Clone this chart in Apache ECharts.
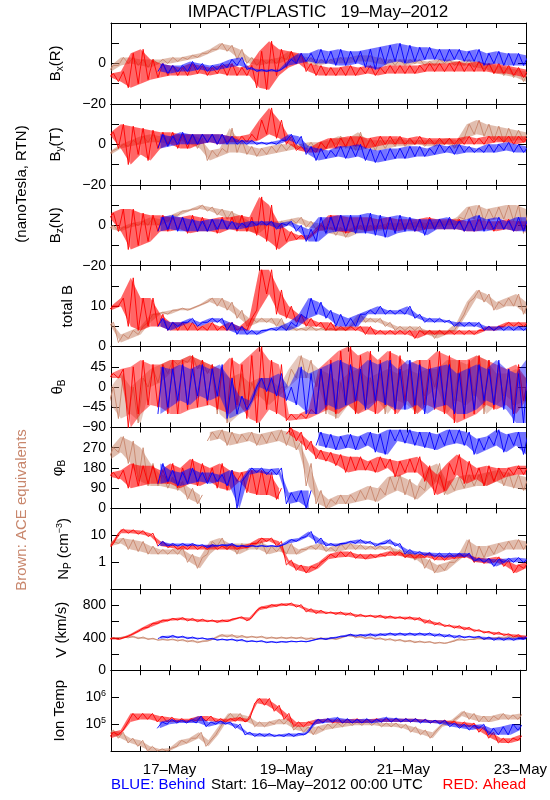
<!DOCTYPE html>
<html><head><meta charset="utf-8">
<script src="https://cdn.jsdelivr.net/npm/echarts@6/dist/echarts.min.js"></script>
<style>html,body{margin:0;padding:0;background:#fff}#c{width:550px;height:800px}</style>
</head><body><div id="c"></div>
<script>
// sample times, hours since 16-May-2012 00:00 UTC (every 4 h)
const sampleHours = [0,4,8,12,16,20,24,28,32,36,40,44,48,52,56,60,64,68,72,76,80,84,88,92,96,100,104,108,112,116,120,124,128,132,136,140,144,148,152,156,160,164,168];
const xTickHours = [24,72,120,168];
const xTickLabels = ['17–May','19–May','21–May','23–May'];

// each entry: [low, high] spread of the data in that 4-hour slot
const bxRed = [[-7,-5],[-9,-4],[-12,5],[-10,7],[-8,2],[-7,0],[-6,-1],[-6,-2],[-6,0],[-5,-1],[-6,-2],[-5,-1],[-6,0],[-6,-2],[-6,-1],[-12,6],[-13,11],[-6,7],[-2,6],[0,5],[-4,0],[-6,-1],[-6,-2],[-6,-2],[-6,-1],[-6,-2],[-5,-1],[-6,-2],[-5,-1],[-5,-1],[-5,-1],[-5,-1],[-4,0],[-4,0],[-4,0],[-4,1],[-4,0],[-4,1],[-4,0],[-5,0],[-5,-1],[-6,-2],[-7,-3]];
const bxBlue = [null,null,null,null,null,[-4,0],[-5,-1],[-4,-1],[-4,1],[-3,0],[-4,-1],[-3,0],[-2,2],[-1,3],[-3,-2],[-4,-3],[-4,-3],[-4,-3],[-1,2],[0,5],[1,5],[0,7],[0,6],[-1,7],[-1,6],[0,6],[-2,7],[-3,8],[0,9],[1,10],[0,9],[1,8],[2,8],[2,7],[1,7],[2,7],[1,6],[1,7],[-1,5],[0,6],[-1,5],[-1,5],[-1,4]];
const bxBrown = [[-4,-1],[-1,3],[0,3],[-1,2],[-2,2],[0,2],[0,3],[1,3],[2,4],[3,5],[5,7],[7,10],[6,9],[2,7],[0,3],[-1,2],[0,2],[0,3],[2,6],[1,4],[0,3],[-1,2],[0,2],[0,3],[0,3],[1,4],[1,4],[0,3],[-1,2],[-1,2],[-1,2],[0,2],[-1,1],[-1,2],[0,2],[-1,1],[-1,2],[-2,1],[-3,0],[-5,-1],[-6,-2],[-7,-3],[-9,-4]];

const byRed = [[4,6],[-2,10],[-10,9],[-5,8],[-8,7],[-2,6],[0,6],[-2,5],[-2,5],[0,5],[1,5],[0,5],[1,4],[1,4],[1,5],[2,12],[5,18],[3,12],[0,4],[-3,-1],[-4,-2],[-4,1],[-2,3],[-2,3],[-1,4],[-1,4],[-2,3],[-1,4],[0,4],[0,4],[0,3],[0,4],[0,3],[0,3],[0,3],[0,3],[0,4],[0,3],[0,4],[1,4],[1,4],[0,4],[1,4]];
const byBlue = [null,null,null,null,null,[-2,5],[-1,4],[0,6],[0,5],[0,5],[1,5],[0,5],[0,4],[0,2],[0,2],[0,1],[0,1],[0,2],[2,5],[0,4],[-5,-1],[-8,-2],[-7,-3],[-6,-1],[-7,-1],[-6,0],[-8,-2],[-9,-3],[-8,-2],[-7,-2],[-7,-1],[-6,-1],[-6,-2],[-5,0],[-4,-1],[-5,0],[-4,-1],[-4,-2],[-4,0],[-4,0],[-3,1],[-4,0],[-4,-1]];
const byBrown = [[-5,-3],[-2,0],[-1,2],[0,4],[1,5],[1,4],[0,4],[2,5],[0,5],[-2,3],[-8,-3],[-6,-2],[-4,8],[-4,2],[-5,-1],[-6,-2],[-5,-1],[-4,0],[-3,0],[-2,0],[-2,1],[-3,1],[-2,2],[0,4],[-2,3],[-3,6],[-2,2],[-3,2],[-2,2],[-1,3],[-1,2],[0,2],[-1,2],[-1,2],[0,3],[-2,2],[3,10],[5,12],[4,10],[2,9],[1,8],[2,7],[2,6]];

const bzRed = [[3,6],[-3,8],[-12,8],[-10,6],[-8,5],[-3,5],[-3,4],[-2,4],[-4,5],[-3,4],[-3,3],[-4,4],[-2,4],[-3,5],[-3,4],[-5,14],[-8,10],[-12,1],[-8,-3],[-7,-5],[-7,-5],[-3,0],[-2,5],[-3,5],[-4,4],[-2,4],[-3,4],[-2,3],[-2,4],[-3,3],[-2,3],[-3,3],[-2,4],[-2,3],[-2,3],[-2,3],[-3,2],[-3,3],[-2,2],[-3,2],[-2,3],[-3,2],[-2,2]];
const bzBlue = [null,null,null,null,null,[-3,4],[-2,5],[-3,4],[-3,3],[-3,2],[-3,3],[-2,3],[-2,2],[-2,1],[-1,2],[0,2],[0,2],[-2,1],[0,2],[-3,0],[-8,-2],[-8,4],[-4,4],[-3,5],[-3,5],[-4,5],[-4,6],[-5,5],[-6,4],[-4,5],[-3,4],[-3,3],[-5,3],[-2,3],[-2,4],[-2,2],[-3,3],[-3,5],[-3,3],[-2,4],[-2,2],[-3,4],[-3,4]];
const bzBrown = [[-2,0],[-3,-1],[-1,1],[0,2],[0,4],[0,3],[2,5],[5,7],[7,8],[8,10],[7,9],[5,8],[3,7],[0,5],[-3,2],[-4,1],[0,2],[-1,2],[0,3],[1,4],[-1,2],[-2,1],[-4,-1],[-5,-1],[-6,-2],[-4,0],[-3,0],[-3,0],[-2,1],[-2,1],[-2,1],[-1,2],[-2,1],[-1,2],[0,2],[0,4],[3,9],[3,10],[2,8],[3,9],[3,10],[2,10],[-4,8]];

const btRed = [[9,10],[10,12],[5,17],[4,12],[5,12],[5,8],[4,6],[4,6],[4,6],[4,5],[4,6],[4,5],[4,6],[4,5],[4,7],[9,19],[13,19],[8,14],[7,10],[6,8],[5,7],[5,6],[4,6],[4,5],[4,5],[4,5],[3,5],[3,4],[3,4],[3,4],[3,4],[2,4],[3,4],[3,4],[3,4],[3,4],[3,4],[3,4],[4,5],[4,5],[5,6],[5,6],[5,6]];
const btBlue = [null,null,null,null,null,[5,7],[4,6],[5,6],[6,7],[5,6],[6,7],[6,7],[4,6],[3,5],[3,4],[3,4],[4,4.5],[4,5],[4,6],[5,8],[7,12],[8,11],[7,9],[5,8],[5,7],[5,8],[8,9],[8,10],[8,9],[8,9],[8,10],[7,8],[6,7],[6,7],[6,6.5],[5,6],[5,6],[5,6],[4,5],[4,5],[4,5],[4,5],[4,5]];
const btBrown = [[5,6],[1,3],[2,4],[3,5],[6,8],[8,8.5],[8,9],[9,9.5],[9,9.5],[10,10.5],[11,12],[10,12],[9,11],[7,9],[5,7],[6,7],[6,7],[5,7],[4,5],[4,4.5],[4,5],[4,4.5],[4,4.5],[4,4.5],[4,5],[6,8],[6,7],[6,7],[5,6],[4,5],[4,5],[4,5],[3,4],[2,4],[3,4],[4,6],[8,11],[12,14],[11,13],[9,11],[10,12],[10,13],[8,11]];

const thRed = [[20,30],[20,40],[-90,45],[-60,60],[-40,50],[-45,50],[-60,60],[-60,60],[-50,70],[-45,60],[-40,50],[-50,40],[-60,65],[-40,50],[-70,70],[-80,90],[-50,60],[-60,50],[-75,-60],[-72,-60],[-70,-50],[-60,40],[-50,60],[-60,80],[-40,90],[-60,70],[-50,80],[-60,60],[-40,80],[-60,70],[-30,50],[-60,60],[-40,60],[-50,80],[-60,70],[-80,60],[-70,60],[-60,70],[-40,60],[-50,50],[-40,40],[-60,50],[-30,20]];
const thBlue = [null,null,null,null,null,[-60,45],[-45,40],[-30,50],[-40,40],[-20,50],[-30,40],[-20,50],[-70,20],[-60,-20],[-50,-30],[0,20],[-10,20],[-20,30],[-30,0],[-40,45],[-60,30],[-60,40],[-40,50],[-50,60],[-40,50],[-30,40],[-50,60],[-30,50],[-40,60],[-50,40],[-50,60],[-40,50],[-60,40],[-45,45],[-40,50],[-60,30],[-60,40],[-50,50],[-30,40],[-40,60],[-50,40],[-80,30],[-80,60]];
const thBrown = [[-40,0],[-70,30],[-60,0],[-80,20],[0,40],[10,50],[30,60],[50,60],[55,70],[40,60],[30,50],[-60,40],[-80,20],[-60,30],[-40,10],[-20,20],[-40,20],[-20,0],[0,40],[20,70],[20,60],[0,40],[-60,30],[-70,10],[-40,30],[-60,40],[-40,20],[-30,30],[-60,40],[-30,30],[-40,40],[-60,30],[-20,40],[0,40],[-60,60],[-30,60],[-40,50],[-20,70],[-60,60],[-40,30],[-20,30],[-40,40],[-30,20]];

const phRed = [[140,160],[130,170],[90,200],[100,190],[110,190],[110,170],[110,200],[90,180],[110,220],[100,200],[120,180],[90,200],[80,170],[120,160],[70,170],[60,170],[60,160],[40,90],[330,360],[300,340],[260,300],[220,260],[210,250],[190,240],[160,230],[170,230],[170,210],[160,230],[180,220],[140,210],[160,220],[160,230],[120,190],[60,150],[80,200],[150,240],[110,210],[130,180],[100,190],[120,180],[140,180],[150,190],[150,190]];
const phBlue = [null,null,null,null,null,[110,200],[120,170],[100,160],[110,180],[120,160],[110,160],[120,150],[100,170],[0,120],[150,180],[160,180],[150,175],[150,180],[20,70],[30,80],[0,80],[280,340],[270,330],[260,320],[270,330],[260,320],[280,340],[250,330],[240,350],[300,350],[290,350],[280,340],[270,340],[260,330],[280,350],[290,350],[280,340],[240,310],[260,320],[280,350],[250,330],[280,340],[240,340]];
const phBrown = [[220,270],[250,320],[200,300],[120,270],[100,200],[100,150],[90,140],[80,120],[40,90],[20,60],[300,340],[310,350],[280,340],[290,330],[300,340],[280,330],[290,340],[300,350],[280,340],[260,300],[100,200],[20,80],[0,40],[20,60],[20,60],[30,80],[40,100],[30,90],[60,140],[80,150],[60,130],[40,100],[80,180],[120,200],[60,120],[80,140],[90,150],[100,150],[100,160],[120,170],[100,160],[90,150],[80,140]];

const npRed = [[3.5,5],[12,17],[12,16],[11,15],[9,12],[4,6],[3.5,4.5],[3,4],[3,4.5],[3,4],[3,4.5],[3,4],[3,4.5],[3,4],[3.5,5],[5,8],[6,8],[4,6],[0.8,1.2],[0.5,0.8],[0.4,0.7],[0.6,1],[1.3,2],[1.5,2.5],[1.6,2.5],[1.4,2],[1.3,2],[1.5,2],[1.7,2.5],[1.8,2.5],[1.5,2],[1.4,2],[1.5,2.2],[1.2,1.8],[1.2,1.8],[1.4,2],[1.5,2],[1,1.5],[0.9,1.4],[1,1.6],[0.7,1.2],[0.4,0.8],[0.6,1]];
const npBlue = [null,null,null,null,null,[4,6],[4,5],[4,5],[4,5],[4,4.5],[3.5,4.5],[4,4.5],[4,5],[3.8,4.2],[3.8,4.2],[3.8,4.2],[3.8,4.2],[3.8,4.2],[5,7],[6,8],[9,14],[5,8],[4,5],[4,5],[5,6],[5,7],[5,6],[4,5],[5,7],[4,5],[2,3],[2,2.5],[1.8,2.3],[1.6,2.2],[1.5,2.2],[1.6,2.2],[1.6,2.2],[1.1,1.4],[1,1.4],[0.7,1.3],[1,1.4],[1,1.5],[1,1.4]];
const npBrown = [[4,6],[5,8],[3,7],[2.5,6],[2,4],[2,3],[2,3],[2,3.5],[1,2],[0.6,1.5],[2,6],[4,8],[3,5],[2,5],[3,5],[3,6],[2,4],[2.5,4],[2,5],[2,3],[3,4],[3,5],[2.5,3.5],[2.5,5],[3,5],[3,4.5],[3,4],[3,4],[3,4],[2,3],[1.5,2.5],[1.2,2],[0.6,1.3],[0.4,0.8],[0.5,1],[1,1.5],[2,7],[1,4],[1.5,4],[2,5],[3,6],[3,7],[3,6]];

const vRed = [[380,400],[380,400],[420,450],[480,520],[530,580],[580,620],[610,640],[620,650],[610,640],[600,630],[600,620],[590,620],[600,630],[640,660],[610,650],[740,780],[770,810],[790,820],[800,830],[780,810],[720,760],[700,740],[700,720],[690,720],[680,710],[660,690],[660,680],[650,680],[640,670],[640,660],[630,660],[620,650],[580,620],[560,590],[540,560],[520,550],[500,530],[480,500],[460,480],[440,470],[430,450],[410,440],[390,430]];
const vBlue = [null,null,null,null,null,[390,420],[400,430],[400,420],[390,410],[385,400],[380,395],[370,385],[370,385],[360,380],[350,365],[350,365],[340,355],[340,355],[345,360],[350,360],[350,365],[380,395],[380,400],[400,420],[420,445],[420,440],[420,450],[420,450],[430,460],[430,460],[430,460],[430,460],[430,460],[420,450],[410,440],[400,430],[400,420],[400,420],[380,410],[370,400],[370,400],[370,400],[380,420]];
const vBrown = [[390,400],[400,410],[400,420],[390,410],[380,395],[370,380],[370,385],[360,380],[350,370],[340,360],[360,380],[410,440],[410,440],[400,430],[400,420],[400,420],[390,410],[390,410],[390,410],[390,410],[380,400],[380,400],[380,400],[380,400],[420,440],[400,420],[390,410],[380,400],[370,390],[360,380],[350,370],[340,360],[340,355],[330,345],[330,345],[360,390],[370,380],[380,400],[380,400],[390,410],[390,420],[390,420],[400,420]];

const tRed = [[3e4,5e4],[4e4,6e4],[1.2e5,2.5e5],[1.5e5,2.5e5],[1.5e5,2.5e5],[1.2e5,2e5],[1.2e5,1.8e5],[1.2e5,1.6e5],[1.2e5,1.6e5],[1.3e5,2e5],[1.3e5,2e5],[1.2e5,1.6e5],[1.2e5,1.6e5],[1.3e5,1.8e5],[1.2e5,1.6e5],[6e5,9e5],[5e5,9e5],[3e5,5e5],[1.5e5,2.5e5],[8e4,1.2e5],[8e4,1.2e5],[1e5,1.5e5],[1.2e5,1.6e5],[1.1e5,1.5e5],[1.1e5,1.5e5],[1.1e5,1.6e5],[1.1e5,1.5e5],[1.2e5,1.6e5],[1.2e5,1.6e5],[1.2e5,1.6e5],[1.2e5,1.6e5],[1.2e5,1.6e5],[1.2e5,1.5e5],[1.1e5,1.4e5],[1.1e5,1.4e5],[1e5,1.3e5],[8e4,1.2e5],[8e4,1.1e5],[5e4,8e4],[3e4,5e4],[2e4,3e4],[2e4,3e4],[2.5e4,4e4]];
const tBlue = [null,null,null,null,null,[7e4,1.2e5],[1e5,1.5e5],[1.1e5,1.4e5],[1.1e5,1.4e5],[1.1e5,2e5],[8e4,1.2e5],[1e5,1.3e5],[1e5,1.2e5],[7e4,1e5],[4e4,5e4],[3.5e4,4.5e4],[3.5e4,4.5e4],[3.5e4,4e4],[3.5e4,4.5e4],[3.5e4,4.5e4],[4e4,5e4],[1e5,1.5e5],[1.1e5,1.6e5],[1.2e5,1.8e5],[1.1e5,1.6e5],[1.1e5,1.5e5],[1.1e5,1.6e5],[1.1e5,1.5e5],[1.2e5,1.8e5],[1.2e5,1.7e5],[1.2e5,1.6e5],[1.2e5,1.6e5],[1.1e5,1.5e5],[1.1e5,1.4e5],[1e5,1.4e5],[8e4,1.1e5],[7e4,1e5],[6e4,9e4],[7e4,1e5],[4e4,7e4],[4e4,8e4],[4e4,1e5],[6e4,1e5]];
const tBrown = [[4e4,6e4],[3e4,5e4],[2e4,3e4],[1.5e4,2.5e4],[1e4,1.5e4],[1e4,1.2e4],[1e4,1.3e4],[1.5e4,2.5e4],[2e4,3e4],[3e4,5e4],[1.5e4,2.5e4],[4e4,8e4],[1.5e5,2.5e5],[1.5e5,2.5e5],[1.2e5,2e5],[8e4,1.2e5],[8e4,1.2e5],[1e5,1.5e5],[1e5,1.6e5],[6e4,9e4],[5e4,8e4],[4e4,8e4],[6e4,1e5],[7e4,1.1e5],[8e4,1.2e5],[9e4,1.2e5],[9e4,1.3e5],[9e4,1.2e5],[8e4,1.1e5],[8e4,1.1e5],[7e4,1e5],[5e4,8e4],[4e4,6e4],[3e4,5e4],[8e4,1.1e5],[1e5,1.5e5],[2e5,3e5],[1.5e5,2.5e5],[1.2e5,2e5],[1.2e5,2e5],[1.5e5,2.5e5],[1.5e5,2.2e5],[1.5e5,2.5e5]];

// y tick labels per panel
const bTickVals = [0,-20], bTickText = ['0','−20'];
const btTickVals = [10,0], btTickText = ['10','0'];
const thTickVals = [45,0,-45,-90], thTickText = ['45','0','−45','−90'];
const phTickVals = [270,180,90,0], phTickText = ['270','180','90','0'];
const npTickVals = [10,1], npTickText = ['10','1'];
const vTickVals = [800,400,0], vTickText = ['800','400','0'];
const tTickVals = [1e6,1e5], tTickText = ['10{e|6}','10{e|5}'];

const BLUE = '#0000ff', RED = '#ff0000', BROWN = '#c8866c';
const FONT = 'Liberation Sans';

const panels = [
  {name:'B{s|x}(R)', type:'value', min:-20, max:20, interval:10, tv:bTickVals, tt:bTickText, gap:46, data:[bxBrown,bxRed,bxBlue]},
  {name:'B{s|y}(T)', type:'value', min:-20, max:20, interval:10, tv:bTickVals, tt:bTickText, gap:46, data:[byBrown,byRed,byBlue]},
  {name:'B{s|z}(N)', type:'value', min:-20, max:20, interval:10, tv:bTickVals, tt:bTickText, gap:46, data:[bzBrown,bzRed,bzBlue]},
  {name:'total B', type:'value', min:0, max:20, interval:5, tv:btTickVals, tt:btTickText, gap:36, data:[btBrown,btRed,btBlue]},
  {name:'θ{s|B}', type:'value', min:-90, max:90, interval:45, tv:thTickVals, tt:thTickText, gap:44, data:[thBrown,thRed,thBlue], op:0.45},
  {name:'φ{s|B}', type:'value', min:0, max:360, interval:90, tv:phTickVals, tt:phTickText, gap:44, data:[phBrown,phRed,phBlue], wrap:150},
  {name:'N{s|P} (cm{e|−3})', type:'log', min:0.1, max:100, tv:npTickVals, tt:npTickText, gap:38, data:[npBrown,npRed,npBlue]},
  {name:'V (km/s)', type:'value', min:0, max:1000, interval:200, tv:vTickVals, tt:vTickText, gap:42, data:[vBrown,vRed,vBlue]},
  {name:'Ion Temp', type:'log', min:1e4, max:1e7, tv:tTickVals, tt:tTickText, gap:44, data:[tBrown,tRed,tBlue]}
];

function mid(p) { return (p[0] + p[1]) / 2; }
function jump(a, b, wrap) { return wrap && Math.abs(mid(a) - mid(b)) > wrap; }

// zig-zag trace visiting each slot's low then high value (broken at angle wrap)
function zig(arr, wrap) {
  const out = [];
  arr.forEach((p, i) => {
    if (!p) return;
    const prev = arr[i - 1];
    if (prev && jump(prev, p, wrap)) out.push([sampleHours[i] - 2, null]);
    out.push([sampleHours[i] - 1, p[0]]);
    out.push([sampleHours[i] + 1, p[1]]);
  });
  return out;
}
// band segments between consecutive slots: [t0, lo0, hi0, t1, lo1, hi1]
function bandSegs(arr, wrap) {
  const out = [];
  for (let i = 0; i + 1 < arr.length; i++) {
    const a = arr[i], b = arr[i + 1];
    if (!a || !b || jump(a, b, wrap)) continue;
    out.push([sampleHours[i], a[0], a[1], sampleHours[i + 1], b[0], b[1]]);
  }
  return out;
}

const TOP = 23, H = 80.9, LEFT = 111, W = 415;
const grids = [], xAxes = [], yAxes = [], series = [];
const axLine = {show:true, onZero:false, lineStyle:{color:'#000', width:1}};
const richSub = {
  s:{fontSize:10, fontFamily:FONT, verticalAlign:'bottom', padding:[8,0,0,0], color:'#000'},
  e:{fontSize:9, fontFamily:FONT, verticalAlign:'top', padding:[0,0,8,0], color:'#000'}
};

panels.forEach((p, k) => {
  grids.push({left:LEFT, width:W, top:TOP + k*H, height:H});
  const isLast = k === panels.length - 1;
  const xBase = {gridIndex:k, type:'value', min:0, max:168, interval:12,
    axisLine:axLine, splitLine:{show:false},
    axisTick:{show:true, inside:true, length:5, lineStyle:{color:'#000'}}};
  xAxes.push(Object.assign({}, xBase, {position:'bottom',
    axisLabel:{show:isLast, margin:11, fontSize:15, fontFamily:FONT, color:'#000', showMaxLabel:true, showMinLabel:true,
      formatter:v => { const j = xTickHours.indexOf(v); return j >= 0 ? xTickLabels[j] : ''; }}}));
  xAxes.push(Object.assign({}, xBase, {position:'top', axisLabel:{show:false}}));
  const fmt = v => {
    for (let j = 0; j < p.tv.length; j++) {
      if (Math.abs(v - p.tv[j]) <= Math.abs(p.tv[j]) * 1e-6 + 1e-9) return p.tt[j];
    }
    return '';
  };
  const yBase = {gridIndex:k, type:p.type, min:p.min, max:p.max,
    axisLine:axLine, splitLine:{show:false},
    axisTick:{show:true, inside:true, length:8, lineStyle:{color:'#000'}}};
  if (p.interval) yBase.interval = p.interval;
  if (p.type === 'log') yBase.logBase = 10;
  yAxes.push(Object.assign({}, yBase, {position:'left',
    axisLabel:{show:true, margin:5, fontSize:14, fontFamily:FONT, color:'#000', formatter:fmt, rich:richSub, showMinLabel:true, showMaxLabel:true},
    name:p.name, nameLocation:'middle', nameGap:p.gap, nameRotate:90,
    nameTextStyle:{fontSize:15, fontFamily:FONT, color:'#000', rich:richSub}}));
  yAxes.push(Object.assign({}, yBase, {position:'right', axisLabel:{show:false}}));
  const colors = [BROWN, RED, BLUE];
  const base = p.op || 0.55;
  const opac = [base, base + 0.05, base];
  p.data.forEach((d, j) => {
    series.push({type:'custom', xAxisIndex:2*k, yAxisIndex:2*k, data:bandSegs(d, p.wrap),
      encode:{x:[0,3], y:[1,2,4,5]}, clip:true, animation:false, silent:true, z:2+2*j,
      renderItem:(params, api) => {
        const p0 = api.coord([api.value(0), api.value(1)]);
        const p1 = api.coord([api.value(3), api.value(4)]);
        const p2 = api.coord([api.value(3), api.value(5)]);
        const p3 = api.coord([api.value(0), api.value(2)]);
        return {type:'polygon', shape:{points:[p0, p1, p2, p3]},
          style:{fill:colors[j], opacity:opac[j], stroke:null}};
      }});
    series.push({type:'line', xAxisIndex:2*k, yAxisIndex:2*k, data:zig(d, p.wrap),
      showSymbol:false, symbol:'none', animation:false, clip:true, connectNulls:false,
      lineStyle:{color:colors[j], width:0.9}, itemStyle:{color:colors[j]}, z:3+2*j});
  });
});

const chart = echarts.init(document.getElementById('c'), null, {renderer:'canvas'});
chart.setOption({
  animation:false,
  backgroundColor:'#fff',
  grid:grids, xAxis:xAxes, yAxis:yAxes, series:series,
  graphic:[
    {type:'text', x:318, y:12, style:{text:'IMPACT/PLASTIC   19–May–2012', font:'17px "Liberation Sans"', fill:'#000', align:'center', verticalAlign:'middle'}},
    {type:'text', x:22, y:184, rotation:Math.PI/2, style:{text:'(nanoTesla, RTN)', font:'15px "Liberation Sans"', fill:'#000', align:'center', verticalAlign:'middle'}},
    {type:'text', x:22, y:510, rotation:Math.PI/2, style:{text:'Brown: ACE equivalents', font:'15px "Liberation Sans"', fill:BROWN, align:'center', verticalAlign:'middle'}},
    {type:'text', x:111, y:785, style:{text:'BLUE: Behind', font:'15px "Liberation Sans"', fill:BLUE, align:'left', verticalAlign:'middle'}},
    {type:'text', x:211, y:785, style:{text:'Start: 16–May–2012 00:00 UTC', font:'15px "Liberation Sans"', fill:'#000', align:'left', verticalAlign:'middle'}},
    {type:'text', x:526, y:785, style:{text:'RED: Ahead', font:'15px "Liberation Sans"', fill:RED, align:'right', verticalAlign:'middle'}}
  ]
});
</script>
</body></html>
